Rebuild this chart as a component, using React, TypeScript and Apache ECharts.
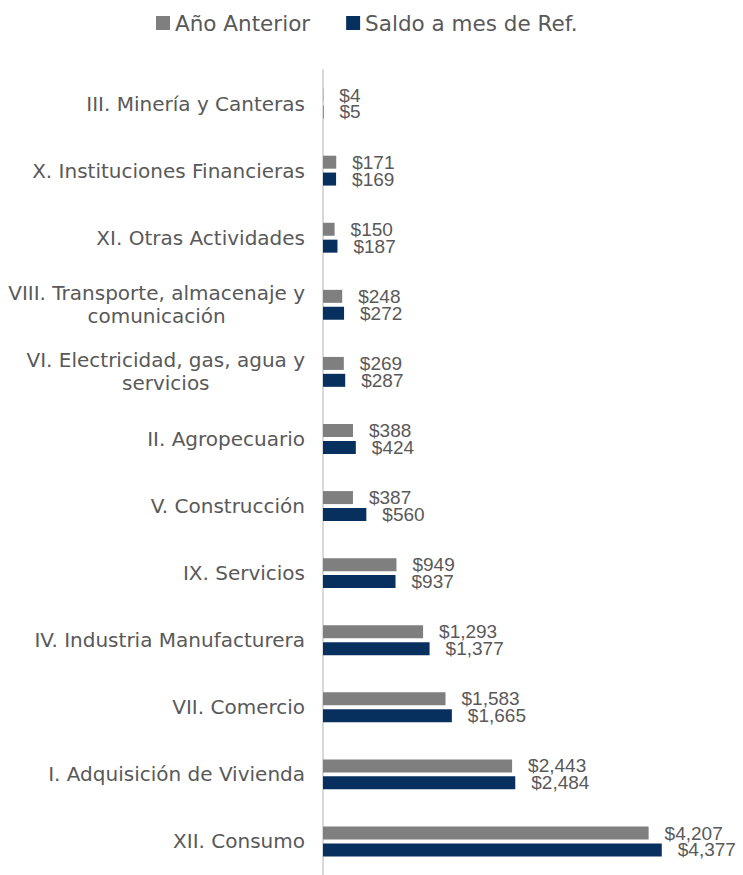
import React, { useEffect, useRef } from "react";
import * as echarts from "echarts";

const categories = [
  "III. Minería y Canteras",
  "X. Instituciones Financieras",
  "XI. Otras Actividades",
  "VIII. Transporte, almacenaje y\ncomunicación",
  "VI. Electricidad, gas, agua y\nservicios",
  "II. Agropecuario",
  "V. Construcción",
  "IX. Servicios",
  "IV. Industria Manufacturera",
  "VII. Comercio",
  "I. Adquisición de Vivienda",
  "XII. Consumo",
];

const anioAnterior = [4, 171, 150, 248, 269, 388, 387, 949, 1293, 1583, 2443, 4207];
const saldoMesRef = [5, 169, 187, 272, 287, 424, 560, 937, 1377, 1665, 2484, 4377];

const seriesNames = ["Año Anterior", "Saldo a mes de Ref."];
const colors = ["#7f7f7f", "#07305f"];

const catFont = "DejaVu Sans";
const valFont = "Liberation Sans";
const textColor = "#595959";

export default function App() {
  const ref = useRef<HTMLDivElement>(null);

  useEffect(() => {
    if (!ref.current) return;
    const chart = echarts.init(ref.current, undefined, { renderer: "svg" });

    const fmtVal = (p: any) => "$" + Number(p.value).toLocaleString("en-US");

    const makeSeries = (name: string, data: number[], color: string) => ({
      name,
      type: "bar",
      data,
      barWidth: 13,
      barGap: "30%",
      itemStyle: { color },
      label: {
        show: true,
        position: "right",
        distance: 16,
        formatter: fmtVal,
        fontFamily: valFont,
        fontSize: 19,
        color: textColor,
      },
    });

    chart.setOption({
      animation: false,
      legend: {
        data: seriesNames,
        left: 151,
        top: 7,
        itemWidth: 14,
        itemHeight: 14,
        itemGap: 36,
        icon: "rect",
        textStyle: { fontFamily: catFont, fontSize: 21.5, color: textColor },
      },
      grid: { left: 323, right: 33, top: 70, bottom: -3, containLabel: false },
      xAxis: {
        type: "value",
        min: 0,
        max: 5000,
        show: false,
        splitLine: { show: false },
      },
      yAxis: {
        type: "category",
        inverse: true,
        data: categories,
        axisLine: { lineStyle: { color: "#d9d9d9", width: 2 } },
        axisTick: { length: 6, lineStyle: { color: "#d9d9d9", width: 2 } },
        axisLabel: {
          margin: 18,
          fontFamily: catFont,
          fontSize: 20,
          color: textColor,
          lineHeight: 23,
          formatter: (v: string) =>
            v
              .split("\n")
              .map((l) => "{c|" + l + "}")
              .join("\n"),
          rich: {
            c: {
              align: "center",
              fontFamily: catFont,
              fontSize: 20,
              color: textColor,
              lineHeight: 23,
            },
          },
        },
      },
      series: [
        makeSeries(seriesNames[0], anioAnterior, colors[0]),
        makeSeries(seriesNames[1], saldoMesRef, colors[1]),
      ],
    });

    return () => chart.dispose();
  }, []);

  return (
    <div
      ref={ref}
      style={{ position: "fixed", left: 0, top: 0, width: 743, height: 875, background: "#fff" }}
    />
  );
}
